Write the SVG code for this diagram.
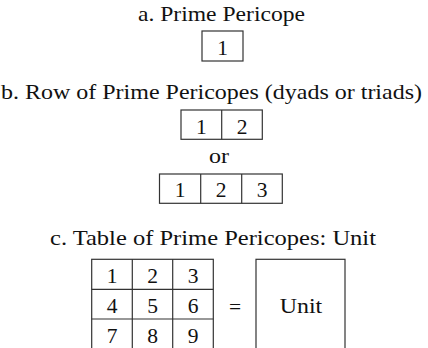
<svg xmlns="http://www.w3.org/2000/svg" width="428" height="348" viewBox="0 0 428 348">
<style>
text{font-family:'Liberation Serif','DejaVu Serif',serif;font-size:21.5px;fill:#111;text-anchor:middle}
.t{font-size:21.5px}
.c{fill:none;stroke:#333;stroke-width:1.2}
</style>
<rect width="428" height="348" fill="#fff"/>
<text class="t" x="221.5" y="21" textLength="167" lengthAdjust="spacingAndGlyphs">a. Prime Pericope</text>
<g id="prime">
<rect class="c" x="202" y="31" width="41" height="30"/>
<text x="222.5" y="55">1</text>
</g>
<text class="t" x="211.5" y="98.5" textLength="421" lengthAdjust="spacingAndGlyphs">b. Row of Prime Pericopes (dyads or triads)</text>
<g id="dyad">
<rect class="c" x="181" y="110" width="81.3" height="29.3"/>
<line class="c" x1="221.7" y1="110" x2="221.7" y2="139.3"/>
<text x="201.3" y="134">1</text>
<text x="242" y="134">2</text>
</g>
<text x="219" y="163" textLength="20" lengthAdjust="spacingAndGlyphs">or</text>
<g id="triad">
<rect class="c" x="159.5" y="174" width="122.8" height="29.3"/>
<line class="c" x1="200.7" y1="174" x2="200.7" y2="203.3"/>
<line class="c" x1="241.7" y1="174" x2="241.7" y2="203.3"/>
<text x="180" y="197">1</text>
<text x="221.2" y="197">2</text>
<text x="262" y="197">3</text>
</g>
<text class="t" x="213" y="245" textLength="326" lengthAdjust="spacingAndGlyphs">c. Table of Prime Pericopes: Unit</text>
<g id="table">
<rect class="c" x="91.7" y="259.3" width="121.6" height="92"/>
<line class="c" x1="132.3" y1="259.3" x2="132.3" y2="350"/>
<line class="c" x1="172.7" y1="259.3" x2="172.7" y2="350"/>
<line class="c" x1="91.7" y1="289.3" x2="213.3" y2="289.3"/>
<line class="c" x1="91.7" y1="319" x2="213.3" y2="319"/>
<text x="112" y="283">1</text>
<text x="152.5" y="283">2</text>
<text x="193" y="283">3</text>
<text x="112" y="313">4</text>
<text x="152.5" y="313">5</text>
<text x="193" y="313">6</text>
<text x="112" y="342.5">7</text>
<text x="152.5" y="342.5">8</text>
<text x="193" y="342.5">9</text>
</g>
<text x="235" y="313.5">=</text>
<g id="unit">
<rect class="c" x="256" y="259.3" width="89" height="92"/>
<text x="301" y="313" textLength="42.5" lengthAdjust="spacingAndGlyphs">Unit</text>
</g>
</svg>
